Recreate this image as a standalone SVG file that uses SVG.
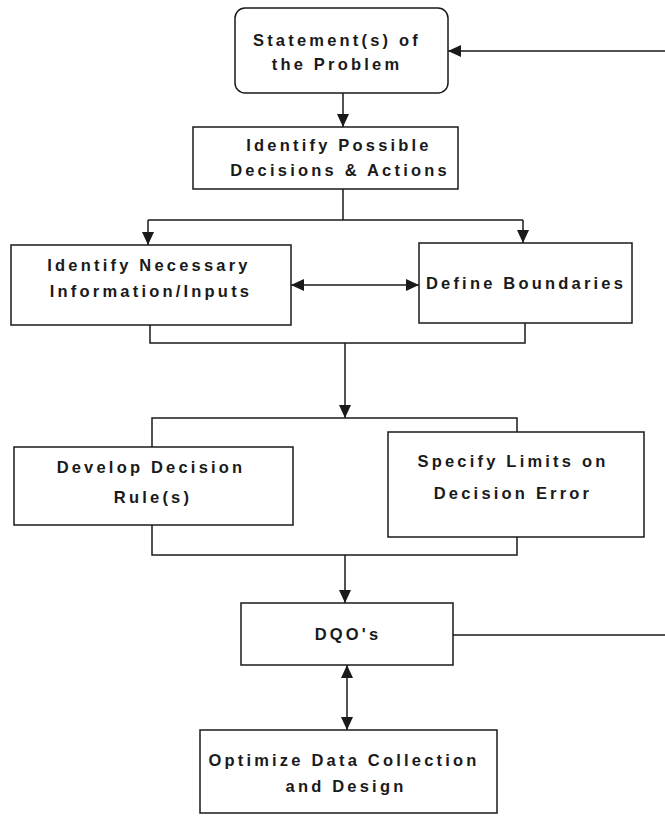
<svg xmlns="http://www.w3.org/2000/svg" width="665" height="816" viewBox="0 0 665 816">
  <defs>
    <marker id="arrow" viewBox="0 0 13 12" refX="13" refY="6" markerWidth="13" markerHeight="12" markerUnits="userSpaceOnUse" orient="auto-start-reverse">
      <path d="M0,0 L13,6 L0,12 Z" fill="#1a1a1a"/>
    </marker>
    <style>
      .box { fill: #ffffff; stroke: #1a1a1a; stroke-width: 1.5; }
      .lbl { font-family: "Liberation Sans", Arial, sans-serif; font-size: 16.5px; font-weight: bold; fill: #1a1a1a; text-anchor: middle; letter-spacing: 3.2px; }
      .wire { fill: none; stroke: #1a1a1a; stroke-width: 1.5; }
      .arr { fill: none; stroke: #1a1a1a; stroke-width: 1.5; marker-end: url(#arrow); }
      .arr2 { fill: none; stroke: #1a1a1a; stroke-width: 1.5; marker-start: url(#arrow); marker-end: url(#arrow); }
    </style>
  </defs>
  <rect width="665" height="816" fill="#ffffff"/>

  <g id="connectors">
    <line class="arr" x1="665" y1="51" x2="448" y2="51"/>
    <line class="arr" x1="343" y1="93" x2="343" y2="127"/>
    <polyline class="wire" points="343,189 343,220"/>
    <polyline class="wire" points="148,220 523,220"/>
    <line class="arr" x1="148" y1="220" x2="148" y2="245"/>
    <line class="arr" x1="523" y1="220" x2="523" y2="243"/>
    <line class="arr2" x1="291" y1="285" x2="419" y2="285"/>
    <polyline class="wire" points="150,325 150,343 525,343 525,323"/>
    <line class="arr" x1="345" y1="343" x2="345" y2="418"/>
    <polyline class="wire" points="152,447 152,418 517,418 517,432"/>
    <polyline class="wire" points="152,525 152,555 517,555 517,537"/>
    <line class="arr" x1="345" y1="555" x2="345" y2="603"/>
    <line class="wire" x1="453" y1="635" x2="665" y2="635"/>
    <line class="arr2" x1="347" y1="665" x2="347" y2="730"/>
  </g>

  <g id="statement">
    <rect class="box" x="235" y="8" width="213" height="85" rx="10"/>
    <text class="lbl" x="337" y="46">Statement(s) of</text>
    <text class="lbl" x="337" y="70">the Problem</text>
  </g>
  <g id="decisions">
    <rect class="box" x="193" y="127" width="265" height="62"/>
    <text class="lbl" x="339" y="151">Identify Possible</text>
    <text class="lbl" x="340" y="176">Decisions &amp; Actions</text>
  </g>
  <g id="information">
    <rect class="box" x="11" y="245" width="280" height="80"/>
    <text class="lbl" x="149" y="271">Identify Necessary</text>
    <text class="lbl" x="151" y="297">Information/Inputs</text>
  </g>
  <g id="boundaries">
    <rect class="box" x="419" y="243" width="213" height="80"/>
    <text class="lbl" x="526" y="289">Define Boundaries</text>
  </g>
  <g id="decision-rules">
    <rect class="box" x="14" y="447" width="279" height="78"/>
    <text class="lbl" x="151" y="473">Develop Decision</text>
    <text class="lbl" x="153" y="503">Rule(s)</text>
  </g>
  <g id="decision-error">
    <rect class="box" x="388" y="432" width="256" height="105"/>
    <text class="lbl" x="513" y="467">Specify Limits on</text>
    <text class="lbl" x="513" y="499">Decision Error</text>
  </g>
  <g id="dqos">
    <rect class="box" x="241" y="603" width="212" height="62"/>
    <text class="lbl" x="348" y="640">DQO's</text>
  </g>
  <g id="optimize">
    <rect class="box" x="200" y="730" width="297" height="83"/>
    <text class="lbl" x="344" y="766">Optimize Data Collection</text>
    <text class="lbl" x="346" y="792">and Design</text>
  </g>
</svg>
